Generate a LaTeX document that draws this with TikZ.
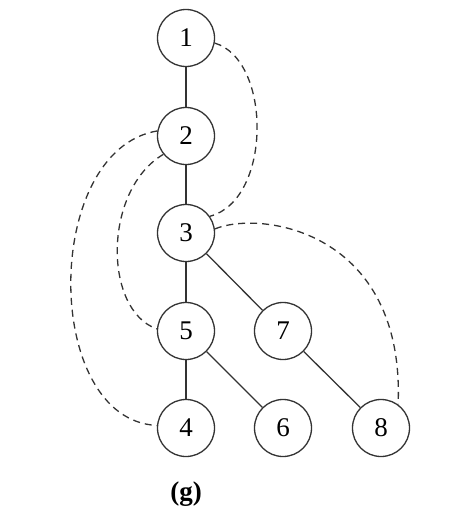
\documentclass[tikz,border=0pt]{standalone}
\usepackage{fontspec}
\setmainfont{Liberation Serif}
\begin{document}
\begin{tikzpicture}[x=1pt,y=-1pt,
  vert/.style={circle,draw=black!80,line width=1.3pt,minimum size=57pt,inner sep=0pt,font=\fontsize{27}{27}\selectfont},
  tree/.style={draw=black!80,line width=1.3pt},
  back/.style={draw=black!80,line width=1.3pt,dash pattern=on 7pt off 5pt}]
\useasboundingbox (0,0) rectangle (452,522);
\node[vert] (n1) at (186,38) {1};
\node[vert] (n2) at (186,136) {2};
\node[vert] (n3) at (186,233) {3};
\node[vert] (n5) at (186,331) {5};
\node[vert] (n7) at (283,331) {7};
\node[vert] (n4) at (186,428) {4};
\node[vert] (n6) at (283,428) {6};
\node[vert] (n8) at (381,428) {8};
\node[font=\bfseries\fontsize{27}{27}\selectfont] (lab) at (186,494) {(g)};
\draw[tree] (n1) -- (n2);
\draw[tree] (n2) -- (n3);
\draw[tree] (n3) -- (n5);
\draw[tree] (n3) -- (n7);
\draw[tree] (n5) -- (n4);
\draw[tree] (n5) -- (n6);
\draw[tree] (n7) -- (n8);
\draw[back] (n1.-10) .. controls (272,60) and (272,200) .. (n3.35);
\draw[back] (n3.8) .. controls (260,210) and (405,230) .. (n8.54);
\draw[back] (n2.170) .. controls (42,150) and (42,420) .. (n4.175);
\draw[back] (n2.-141) .. controls (103,190) and (103,310) .. (n5.176);
\end{tikzpicture}
\end{document}
